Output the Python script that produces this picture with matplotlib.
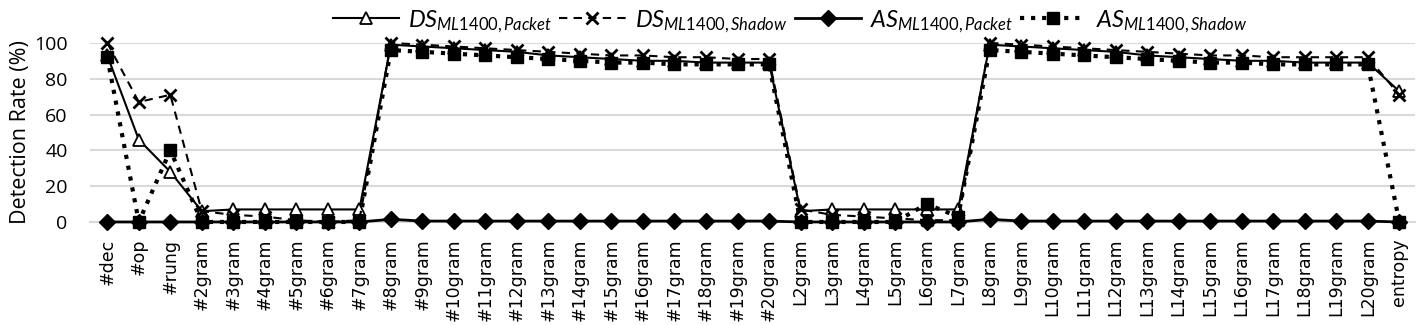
import matplotlib
matplotlib.use("Agg")
import matplotlib.pyplot as plt
import numpy as np

categories = ["#dec", "#op", "#rung"] + [f"#{i}gram" for i in range(2, 21)] + \
             [f"L{i}gram" for i in range(2, 21)] + ["entropy"]

ds_packet = [93, 46, 28, 6, 7, 7, 7, 7, 7,
             99, 98, 97, 96, 95, 93, 92, 91, 90, 90, 89, 89, 89,
             6, 7, 7, 7, 7, 7,
             99, 98, 97, 96, 95, 93, 92, 91, 90, 90, 89, 89, 89,
             73]
ds_shadow = [100, 67, 71, 6, 4, 3, 1, 0, 1,
             100, 99, 98, 97, 96, 95, 94, 93, 93, 92, 92, 91, 91,
             7, 4, 3, 2, 1, 1,
             100, 99, 98, 97, 96, 95, 94, 93, 93, 92, 92, 92, 92,
             71]
as_packet = [0, 0, 0, 0, 0, 0, 0, 0, 0,
             1.5, 0.5, 0.5, 0.5, 0.5, 0.5, 0.5, 0.5, 0.5, 0.5, 0.5, 0.5, 0.5,
             0, 0, 0, 0, 0, 0,
             1.5, 0.5, 0.5, 0.5, 0.5, 0.5, 0.5, 0.5, 0.5, 0.5, 0.5, 0.5, 0.5,
             0]
as_shadow = [92, 0, 40, 0, 0, 0, 0, 0, 0,
             96, 95, 94, 93, 92, 91, 90, 89, 89, 88, 88, 88, 88,
             0, 0, 0, 0, 10, 3,
             96, 95, 94, 93, 92, 91, 90, 89, 89, 88, 88, 88, 88,
             0]

series_labels = [r"$DS_{ML1400,Packet}$", r"$DS_{ML1400,Shadow}$",
                 r"$AS_{ML1400,Packet}$", r"$AS_{ML1400,Shadow}$"]

plt.rcParams['mathtext.fontset'] = 'custom'
plt.rcParams['mathtext.it'] = 'Lato:italic'
plt.rcParams['mathtext.rm'] = 'Lato'

fig = plt.figure(figsize=(14.21, 3.25), dpi=100)
ax = fig.add_axes([0.0633, 0.317, 0.9325, 0.551])
x = np.arange(len(categories))

ax.plot(x, ds_packet, '-', color='black', lw=1.5, marker='^', ms=8,
        mfc='white', mec='black', mew=1.3, label=series_labels[0], clip_on=False, zorder=3)
ax.plot(x, ds_shadow, '--', color='black', lw=1.5, marker='x', ms=8,
        mew=2, label=series_labels[1], clip_on=False, zorder=4, dashes=(4, 3))
ax.plot(x, as_packet, '-', color='black', lw=2, marker='D', ms=8,
        label=series_labels[2], clip_on=False, zorder=3)
ax.plot(x, as_shadow, ':', color='black', lw=3, marker='s', ms=9,
        label=series_labels[3], clip_on=False, zorder=5)

ax.set_xlim(-0.55, len(categories) - 0.5)
ax.set_ylim(0, 100)
ax.set_yticks([0, 20, 40, 60, 80, 100])
ax.yaxis.grid(True, color='#d9d9d9', lw=1.5)
ax.set_axisbelow(True)
for s in ['top', 'right', 'left']:
    ax.spines[s].set_visible(False)
ax.spines['bottom'].set_color('#d9d9d9')
ax.spines['bottom'].set_linewidth(1.5)
ax.tick_params(axis='both', length=0)
ax.tick_params(axis='y', labelsize=14, pad=16)
ax.set_xticks(x)
ax.set_xticklabels(categories, rotation=90, fontsize=12.5)
ax.tick_params(axis='x', pad=12)
for lab in ax.get_yticklabels():
    lab.set_fontfamily('Open Sans')
ax.set_ylabel("Detection Rate (%)", fontsize=15.5, fontfamily='Open Sans', labelpad=2)

fig.legend(loc='center', bbox_to_anchor=(0.556, 0.935), ncol=4, frameon=False,
           fontsize=17, handlelength=2.8, columnspacing=0.3, handletextpad=0.4)

fig.savefig("out.png", dpi=100)
